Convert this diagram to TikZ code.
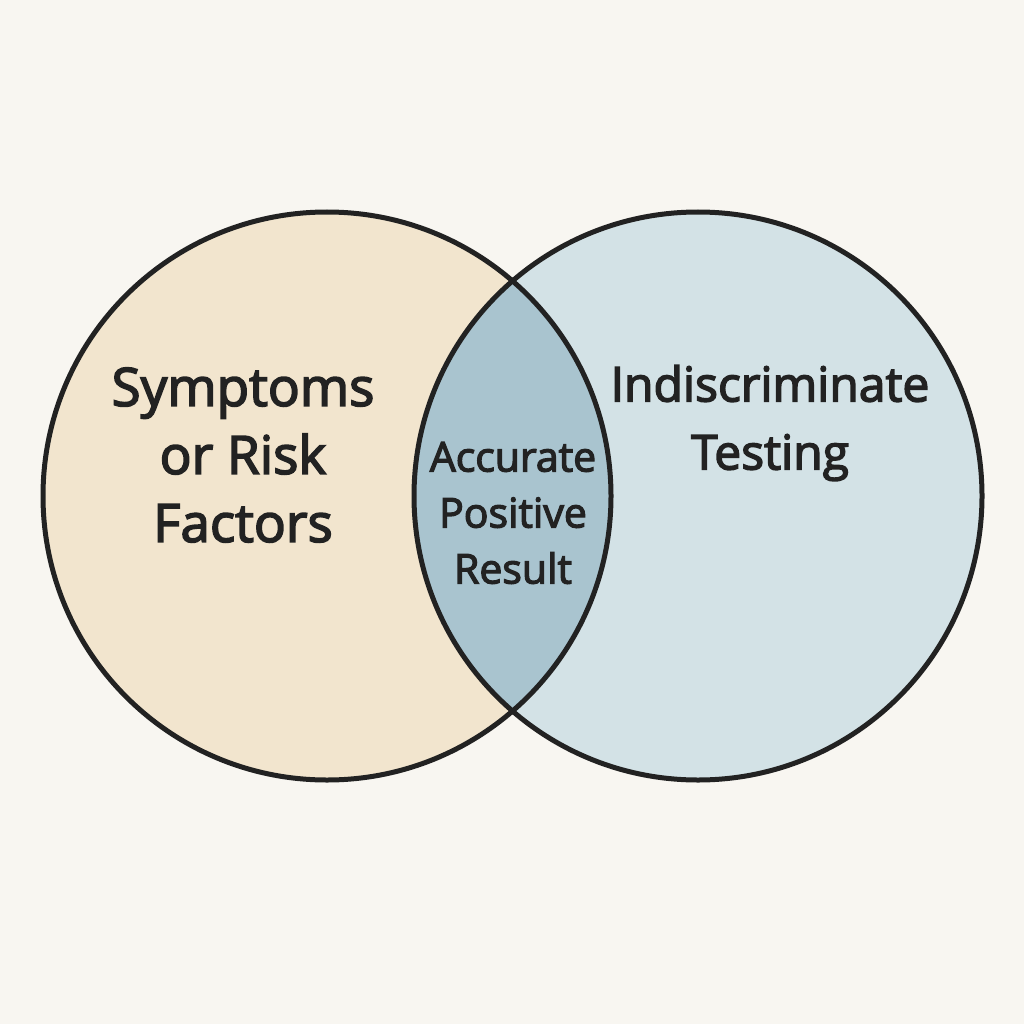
\documentclass[tikz,border=0pt]{standalone}
\usepackage{fontspec}
\setmainfont{Open Sans}
\newfontfamily\labelfont{Open Sans}[FakeBold=3]
\definecolor{paper}{HTML}{F8F6F1}
\definecolor{sandfill}{HTML}{F2E5CE}
\definecolor{mistfill}{HTML}{D3E2E6}
\definecolor{lensfill}{HTML}{A9C4CF}
\definecolor{ink}{HTML}{222222}
\tikzset{
  setlabel/.style={text=ink,align=center,font=\labelfont\fontsize{50}{68}\selectfont},
  lenslabel/.style={text=ink,align=center,font=\labelfont\fontsize{41}{56}\selectfont},
  rim/.style={draw=ink,line width=5pt}
}
\begin{document}
\begin{tikzpicture}[x=1pt,y=-1pt]
\fill[paper] (0,0) rectangle (1024,1024);
\useasboundingbox (0,0) rectangle (1024,1024);
\coordinate (left) at (327,496);
\coordinate (right) at (698,496);
% the two sets
\fill[sandfill] (left) circle[radius=284pt];
\fill[mistfill] (right) circle[radius=284pt];
% their overlap
\begin{scope}
\clip (left) circle[radius=284pt];
\fill[lensfill] (right) circle[radius=284pt];
\end{scope}
\draw[rim] (left) circle[radius=284pt] (right) circle[radius=284pt];
\node[setlabel,font=\labelfont\fontsize{53}{68}\selectfont] (symptoms) at (243,455) {Symptoms\\or Risk\\Factors};
\node[setlabel,font=\labelfont\fontsize{48}{68}\selectfont] (testing) at (770,423) {Indiscriminate\\Testing};
\node[lenslabel] (accurate) at (513,513) {Accurate\\Positive\\Result};
\end{tikzpicture}
\end{document}
